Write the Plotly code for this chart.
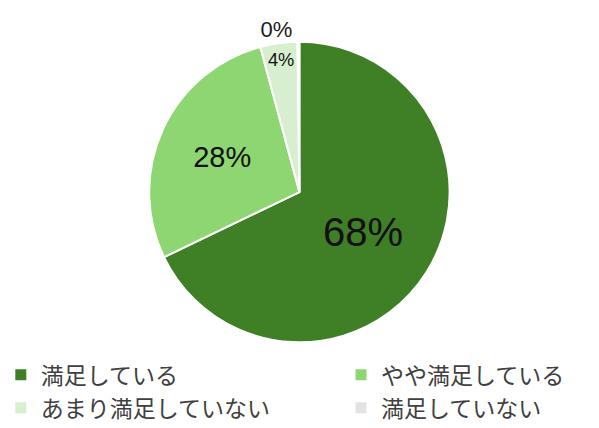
import plotly.graph_objects as go

# answer categories and shares (%)
labels = ['満足している', 'やや満足している', 'あまり満足していない', '満足していない']
values = [68, 28, 4, 0.2]
shown = ['68%', '28%', '4%', '0%']
colors = ['#3f7f26', '#8ed672', '#d8efcf', '#e3e3e3']
legend_slot = ['legend', 'legend2', 'legend', 'legend2']

fig = go.Figure(go.Pie(
    labels=labels,
    values=values,
    text=shown,
    texttemplate='%{text}',
    sort=False,
    direction='clockwise',
    rotation=0,
    marker=dict(colors=colors, line=dict(color='white', width=2)),
    textposition=['inside', 'inside', 'inside', 'outside'],
    insidetextorientation='horizontal',
    textfont=dict(size=[40, 29, 24, 22], color='#111111',
                  family='Liberation Sans, Arial, sans-serif'),
    outsidetextfont=dict(size=22, color='#1a1a1a'),
    domain=dict(x=[0, 0.973], y=[0.219, 0.921]),
    showlegend=False,
    hoverinfo='label+percent',
))

# legend entries in two columns
for lab, col, slot in zip(labels, colors, legend_slot):
    fig.add_trace(go.Scatter(
        x=[None], y=[None], mode='markers', name=lab,
        marker=dict(symbol='square', size=11, color=col),
        legend=slot,
    ))

legend_style = dict(
    orientation='v', yanchor='top', xanchor='left',
    font=dict(size=23, color='#404040'),
    bgcolor='rgba(0,0,0,0)', tracegroupgap=0,
)

fig.update_layout(
    width=599, height=428,
    margin=dict(l=0, r=0, t=0, b=0, autoexpand=False),
    paper_bgcolor='white',
    plot_bgcolor='white',
    font=dict(family='Noto Sans CJK JP, Noto Sans, sans-serif', color='#404040'),
    xaxis=dict(visible=False),
    yaxis=dict(visible=False),
    legend=dict(x=-0.012, y=0.193, **legend_style),
    legend2=dict(x=0.556, y=0.193, **legend_style),
)

fig.write_html("out.html")
